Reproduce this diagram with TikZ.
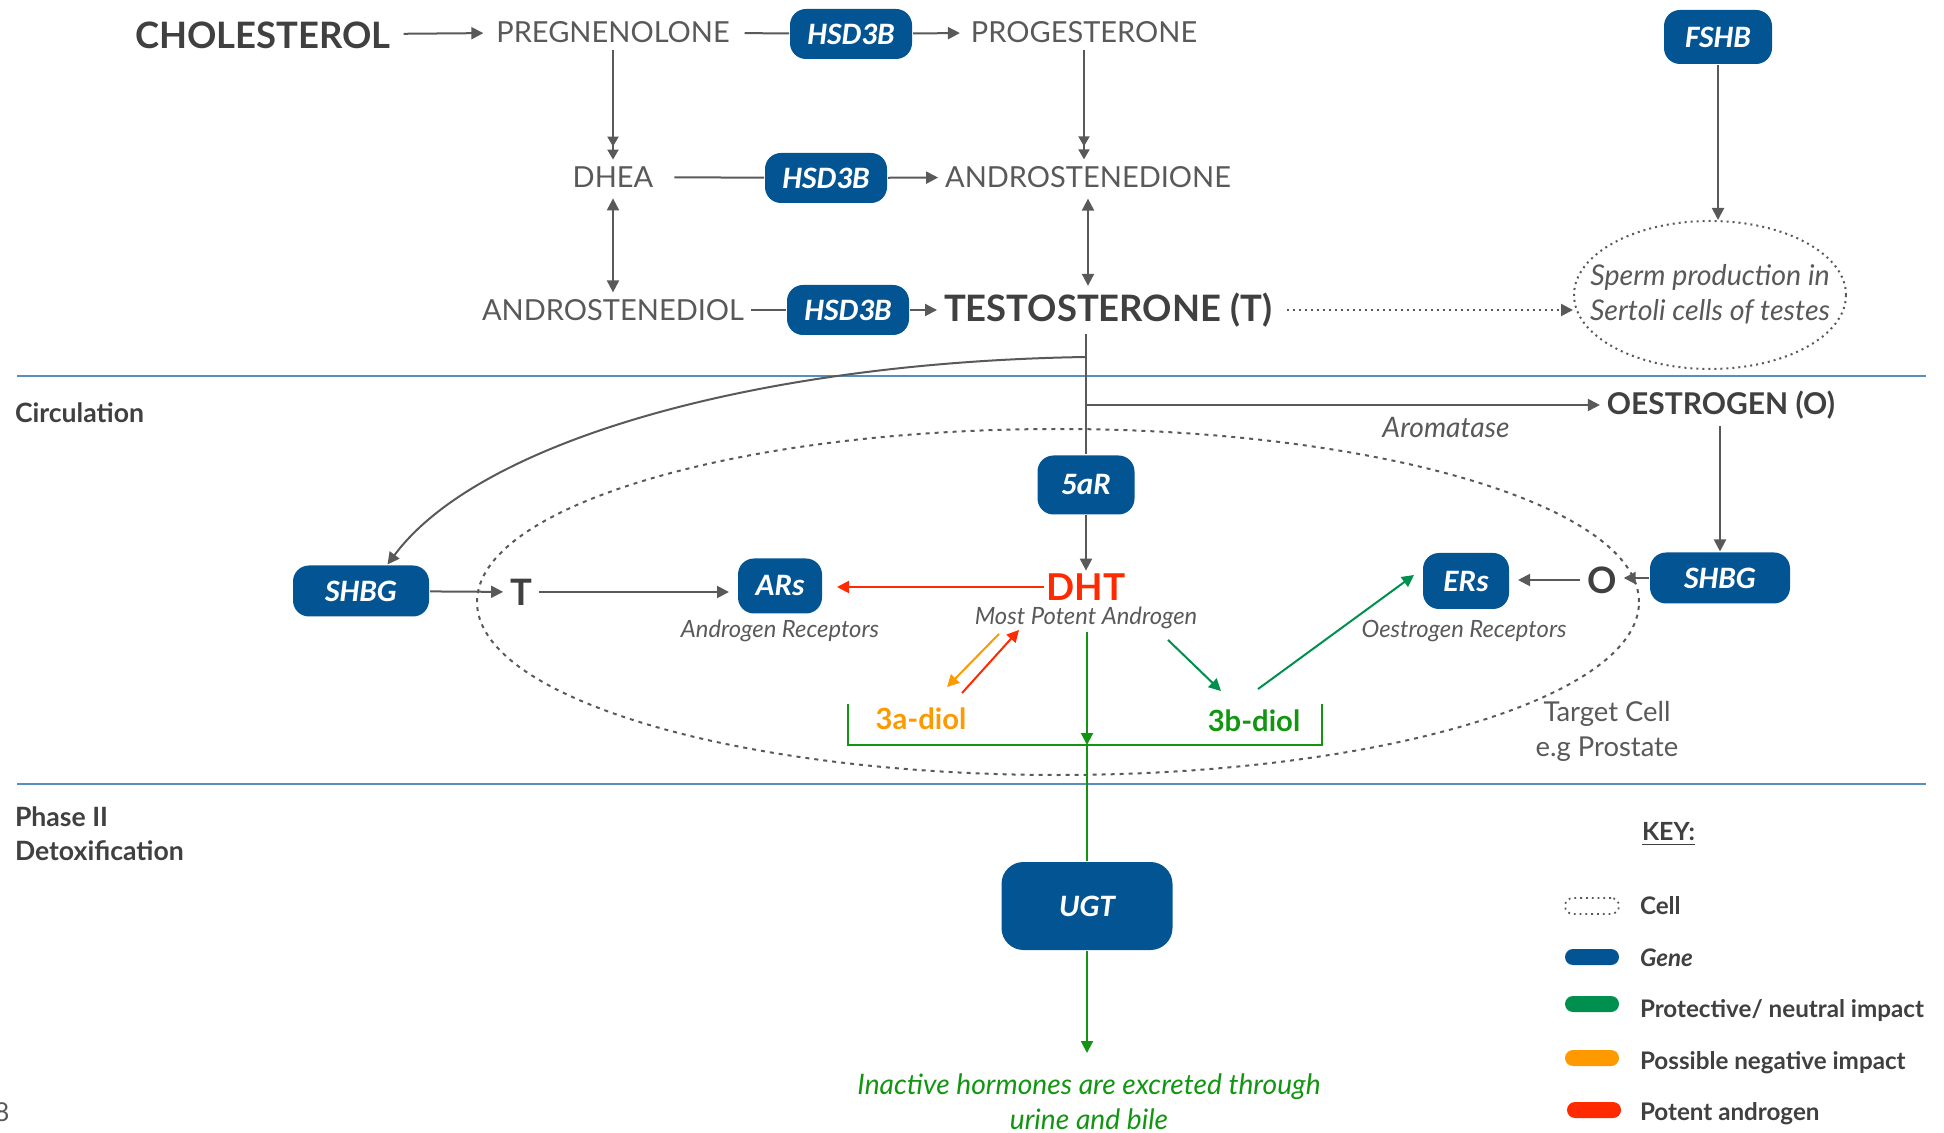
\documentclass[tikz,border=0pt]{standalone}
\usepackage{fontspec}
\setmainfont{Lato}
\newfontfamily\genefont{Carlito}
\usetikzlibrary{arrows.meta,positioning,calc,shapes.geometric}
\definecolor{ink}{RGB}{64,64,64}
\definecolor{mid}{RGB}{89,89,89}
\definecolor{genebl}{RGB}{2,84,147}
\definecolor{prot}{RGB}{0,143,78}
\definecolor{leaf}{RGB}{18,150,18}
\definecolor{maybe}{RGB}{255,153,0}
\definecolor{potent}{RGB}{255,42,0}
\definecolor{rule}{RGB}{88,142,190}
\tikzset{
  every picture/.style={line width=1pt},
  txt/.style={inner sep=3pt, text=mid, font=\fontsize{14.5}{16}\selectfont},
  hero/.style={inner sep=3pt, text=ink, font=\bfseries\fontsize{18.2}{20}\selectfont},
  gene/.style={fill=genebl, rounded corners=8pt, text=white, inner sep=0pt, minimum width=61pt, minimum height=25pt, font=\genefont\bfseries\itshape\fontsize{15.6}{18}\selectfont},
  note/.style={inner sep=2pt, text=mid, font=\itshape\fontsize{11.9}{13}\selectfont},
  zone/.style={anchor=west, inner sep=0pt, text=ink, align=left, font=\bfseries\fontsize{13.3}{17}\selectfont},
  diol/.style={inner sep=3pt, font=\bfseries\fontsize{14.6}{16}\selectfont},
  ring/.style={ellipse, draw=mid, inner sep=0pt},
  swatch/.style={rounded corners=4pt, minimum width=27pt, minimum height=8pt, inner sep=0pt},
  keytxt/.style={anchor=west, inner sep=0pt, text=ink, font=\bfseries\fontsize{12.1}{14}\selectfont},
  tip/.style={-{Triangle[length=6pt,width=6pt]}},
  flow/.style={draw=mid, tip},
  joint/.style={draw=mid},
  twin/.style={draw=mid, {Triangle[length=6pt,width=6pt]}-{Triangle[length=6pt,width=6pt]}},
  dbl/.style={draw=mid, -{Triangle[length=5pt,width=5.5pt,sep=1.5pt]Triangle[length=5pt,width=5.5pt]}},
  greenflow/.style={draw=leaf, tip},
  protflow/.style={draw=prot, tip},
  redflow/.style={draw=potent, tip},
  orangeflow/.style={draw=maybe, tip},
}
\begin{document}
\begin{tikzpicture}[x=0.5pt, y=-0.5pt]
  \useasboundingbox (0,0) rectangle (1944,1133);
  % synthesis
  \node[hero] (chol) at (263,35) {CHOLESTEROL};
  \node[txt] (preg) at (613,32) {PREGNENOLONE};
  \node[gene] (hsdA) at (851,34) {HSD3B};
  \node[txt] (prog) at (1084,32) {PROGESTERONE};
  \node[txt] (dhea) at (613,177) {DHEA};
  \node[gene] (hsdB) at (826,178) {HSD3B};
  \node[txt] (adione) at (1088,177) {ANDROSTENEDIONE};
  \node[txt] (adiol) at (613,310) {ANDROSTENEDIOL};
  \node[gene] (hsdC) at (848,310) {HSD3B};
  \node[hero] (testo) at (1108,310) {TESTOSTERONE (T)};
  \node[gene, minimum width=54pt, minimum height=27pt] (fshb) at (1718,37) {FSHB};
  \node[ring, dotted, minimum width=136pt, minimum height=74pt] (sperm) at (1710,295) {};
  \node[note, align=center, font=\itshape\fontsize{14.3}{17.5}\selectfont] (spermtxt) at (1710,294) {Sperm production in\\Sertoli cells of testes};
  \draw[flow, shorten <=3pt, shorten >=3pt] (chol) -- (preg);
  \draw[joint, shorten <=4pt] (preg) -- (hsdA);
  \draw[flow, shorten >=2pt] (hsdA) -- (prog);
  \draw[dbl] (preg) -- (dhea);
  \draw[dbl] (prog.south) -- (prog.south |- adione.north);
  \draw[joint, shorten <=7pt] (dhea) -- (hsdB);
  \draw[flow] (hsdB) -- (adione);
  \draw[twin, shorten <=2pt] (dhea) -- (adiol);
  \draw[twin, shorten <=2pt] (adione.south) -- (adione.south |- testo.north);
  \draw[joint] (adiol) -- (hsdC);
  \draw[flow] (hsdC) -- (testo);
  \draw[flow] (fshb) -- (fshb |- sperm.north);
  \draw[flow, dotted, shorten <=4pt] (testo) -- (testo -| sperm.west);
  % zones
  \draw[rule, line width=0.8pt] (17,376) -- (1926,376);
  \draw[rule, line width=0.8pt] (17,784) -- (1926,784);
  \node[zone] (circ) at (14,413) {Circulation};
  \node[zone, anchor=north west] (phase) at (14,806) {Phase II\\Detoxification};
  \node[txt, font=\fontsize{13}{15}\selectfont] (page) at (2,1112) {8};
  % circulation
  \coordinate (stem) at (1086,343);
  \coordinate (fork) at (1086,357);
  \coordinate (aro) at (1086,405);
  \node[hero, font=\bfseries\fontsize{15}{18}\selectfont] (oest) at (1721,405) {OESTROGEN (O)};
  \node[note, font=\itshape\fontsize{14.1}{15}\selectfont] (aroma) at (1446,428) {Aromatase};
  \node[ring, dash pattern=on 2pt off 2.5pt, minimum width=581pt, minimum height=173pt] (target) at (1058,602) {};
  \node[txt, align=center, font=\fontsize{13.7}{17.5}\selectfont] (tcell) at (1607,731) {Target Cell\\e.g Prostate};
  \node[gene, minimum width=48.5pt, minimum height=29.5pt] (fivear) at (1086,485) {5aR};
  \node[diol, inner sep=1pt, text=potent, font=\bfseries\fontsize{18.5}{20}\selectfont] (dht) at (1086,587) {DHT};
  \node[note, inner sep=1pt] (mpa) at (1086,618) {Most Potent Androgen};
  \node[gene, minimum width=68pt, minimum height=25.5pt] (shbgL) at (361,591) {SHBG};
  \node[hero] (tin) at (521,592) {T};
  \node[gene, minimum width=42pt, minimum height=27.5pt] (ars) at (780,586) {ARs};
  \node[note] (arlab) at (780,631) {Androgen Receptors};
  \node[gene, minimum width=70pt, minimum height=25.5pt] (shbgR) at (1720,578) {SHBG};
  \node[hero] (oin) at (1602,580) {O};
  \node[gene, minimum width=43pt, minimum height=28pt] (ers) at (1466,581) {ERs};
  \node[note] (erlab) at (1464,631) {Oestrogen Receptors};
  \node[diol, text=maybe] (adiola) at (921,719) {3a-diol};
  \node[diol, text=leaf] (bdiol) at (1254,721) {3b-diol};
  \draw[joint] (testo.south -| stem) -- (fivear);
  \draw[flow] (fork) .. controls (760,362) and (480,440) .. (shbgL.45);
  \draw[flow] (aro) -- (oest);
  \draw[flow] (fivear) -- (dht);
  \draw[flow] (oest.south -| shbgR) -- (shbgR);
  \draw[flow] (shbgL) -- (tin);
  \draw[flow, shorten >=4pt] (tin) -- (tin -| ars.west);
  \draw[redflow, shorten >=7pt] (dht) -- (dht -| ars.east);
  \draw[flow] (shbgR) -- (shbgR -| oin.east);
  \draw[flow, shorten >=4pt] (oin) -- (oin -| ers.east);
  \draw[orangeflow] ([shift={(-43.5pt,-1pt)}]mpa.south) -- ([shift={(13pt,7pt)}]adiola.north);
  \draw[redflow] ([shift={(20.5pt,4pt)}]adiola.north) -- ([shift={(-33.5pt,1pt)}]mpa.south);
  \draw[protflow] ([shift={(41pt,-4pt)}]mpa.south) -- ([shift={(-16.5pt,6pt)}]bdiol.north);
  \draw[protflow] ([shift={(2pt,7pt)}]bdiol.north) -- ([shift={(-4pt,3pt)}]ers.west);
  % detoxification
  \coordinate (brL) at (848,704);
  \coordinate (brR) at (1322,704);
  \coordinate (brM) at (1087,745);
  \node[gene, minimum width=85.5pt, minimum height=44pt, rounded corners=11pt] (ugt) at (1087,906) {UGT};
  \node[note, text=leaf, align=center, font=\itshape\fontsize{14.1}{17.5}\selectfont] (out) at (1089,1102) {Inactive hormones are excreted through\\urine and bile};
  \draw[greenflow] (mpa.south -| brM) -- (brM);
  \draw[leaf] (brL) -- ++(0,41) -| (brR);
  \draw[leaf] (brM) -- (ugt);
  \draw[greenflow, shorten >=8pt] (ugt) -- (ugt |- out.north);
  % key
  \node[keytxt, font=\bfseries\fontsize{12.5}{15}\selectfont] (keyhead) at (1641,834) {\underline{KEY:}};
  \node[swatch, draw=mid, dotted, line width=0.9pt] (keyA) at (1592,906) {};
  \node[keytxt] (keyAt) at (1639,906) {Cell};
  \node[swatch, fill=genebl] (keyB) at (1592,957) {};
  \node[keytxt, font=\bfseries\itshape\fontsize{12.1}{14}\selectfont] (keyBt) at (1639,958) {Gene};
  \node[swatch, fill=prot] (keyC) at (1592,1004) {};
  \node[keytxt] (keyCt) at (1639,1011) {Protective/ neutral impact};
  \node[swatch, fill=maybe] (keyD) at (1592,1058) {};
  \node[keytxt] (keyDt) at (1639,1063) {Possible negative impact};
  \node[swatch, fill=potent] (keyE) at (1594,1110) {};
  \node[keytxt] (keyEt) at (1639,1114) {Potent androgen};
\end{tikzpicture}
\end{document}
